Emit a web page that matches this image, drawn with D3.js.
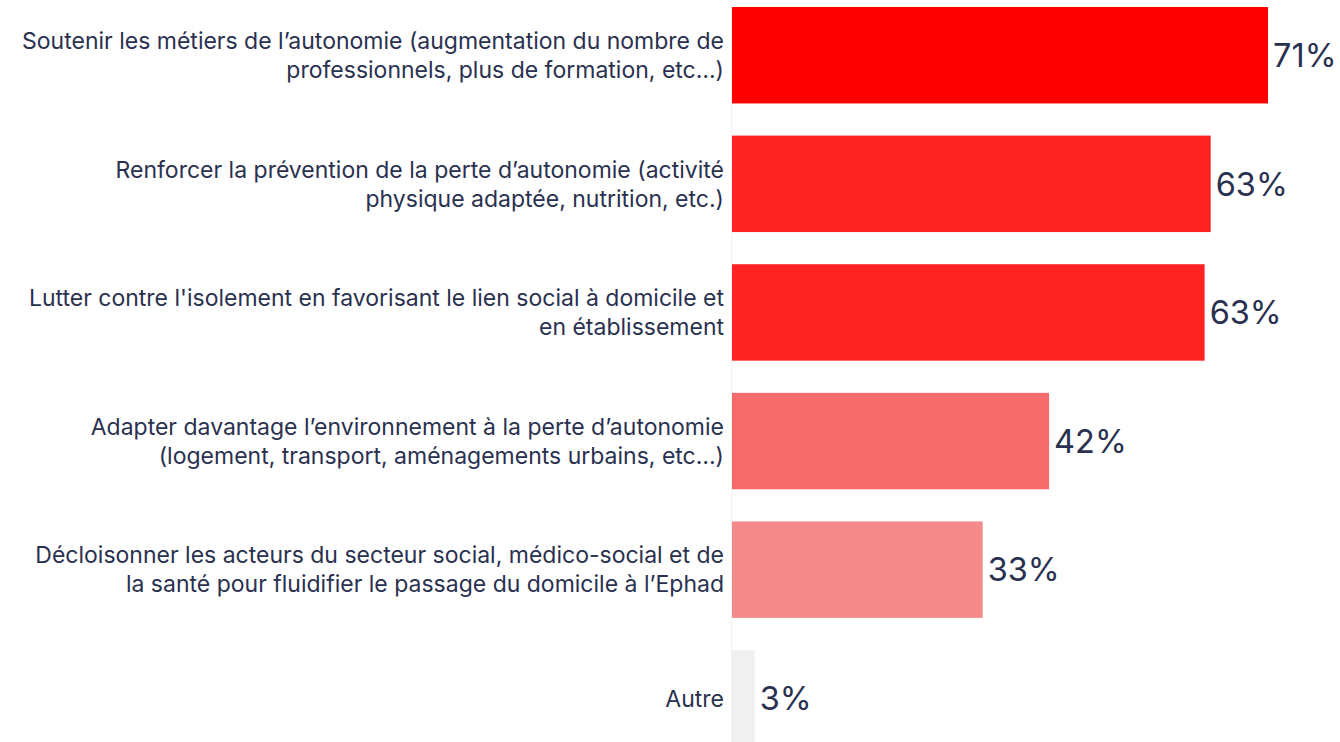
<!DOCTYPE html>
<html>
<head>
<meta charset="utf-8">
<script src="https://cdn.jsdelivr.net/npm/d3@7"></script>
<style>
  html, body { margin: 0; padding: 0; background: #ffffff; }
  svg { display: block; }
</style>
</head>
<body>
<svg id="chart" width="1340" height="742"></svg>
<script>
// Survey answers (multiple choice), share of respondents in %
const categories = [
  ["Soutenir les métiers de l’autonomie (augmentation du nombre de", "professionnels, plus de formation, etc…)"],
  ["Renforcer la prévention de la perte d’autonomie (activité", "physique adaptée, nutrition, etc.)"],
  ["Lutter contre l'isolement en favorisant le lien social à domicile et", "en établissement"],
  ["Adapter davantage l’environnement à la perte d’autonomie", "(logement, transport, aménagements urbains, etc…)"],
  ["Décloisonner les acteurs du secteur social, médico-social et de", "la santé pour fluidifier le passage du domicile à l’Ephad"],
  ["Autre"]
];
const values = [71, 63.4, 62.6, 42, 33.2, 3];
const barColors = ["#ff0000", "#fe2222", "#fe2222", "#f56a6a", "#f58a8a", "#f0f0f0"];

const svg = d3.select("#chart");
const textColor = "#2a3150";
const x0 = 732;

const x = d3.scaleLinear().domain([0, 100]).range([x0, x0 + 755]);
const y = d3.scaleBand()
  .domain(d3.range(categories.length))
  .range([7, 746.5])
  .paddingInner(0.25)
  .paddingOuter(0);

// faint baseline
svg.append("line")
  .attr("x1", x0 - 0.5).attr("x2", x0 - 0.5)
  .attr("y1", 0).attr("y2", 742)
  .attr("stroke", "#f4f4f6").attr("stroke-width", 1);

const rows = svg.append("g").selectAll("g")
  .data(values.map((v, i) => ({ v, i, label: categories[i], color: barColors[i] })))
  .join("g");

rows.append("rect")
  .attr("x", x(0))
  .attr("y", d => y(d.i))
  .attr("width", d => x(d.v) - x(0))
  .attr("height", y.bandwidth())
  .attr("fill", d => d.color);

rows.append("text")
  .attr("x", d => x(d.v) + 5)
  .attr("y", d => y(d.i) + y.bandwidth() / 2)
  .attr("dy", "0.36em")
  .attr("font-family", "Inter, 'Noto Sans', sans-serif")
  .attr("font-size", 32.5)
  .attr("fill", textColor)
  .text(d => Math.round(d.v) + "%");

const lineGap = 29;
rows.append("text")
  .attr("text-anchor", "end")
  .attr("font-family", "Inter, 'Noto Sans', sans-serif")
  .attr("font-size", 23)
  .attr("fill", textColor)
  .each(function(d) {
    const t = d3.select(this);
    const cy = y(d.i) + y.bandwidth() / 2;
    const n = d.label.length;
    d.label.forEach((line, k) => {
      t.append("tspan")
        .attr("x", x0 - 8)
        .attr("y", cy + (k - (n - 1) / 2) * lineGap)
        .attr("dy", "0.36em")
        .text(line);
    });
  });
</script>
</body>
</html>
